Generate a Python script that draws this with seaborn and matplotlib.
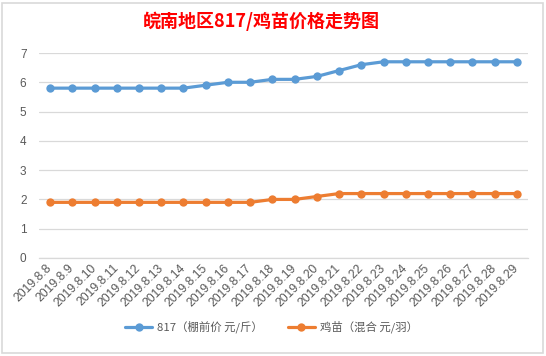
import matplotlib
matplotlib.use("Agg")
import matplotlib.pyplot as plt
import seaborn as sns
import pandas as pd
from matplotlib.patches import Rectangle
from matplotlib.lines import Line2D

dates = ["2019.8.8", "2019.8.9", "2019.8.10", "2019.8.11", "2019.8.12", "2019.8.13",
         "2019.8.14", "2019.8.15", "2019.8.16", "2019.8.17", "2019.8.18", "2019.8.19",
         "2019.8.20", "2019.8.21", "2019.8.22", "2019.8.23", "2019.8.24", "2019.8.25",
         "2019.8.26", "2019.8.27", "2019.8.28", "2019.8.29"]
price_817 = [5.8, 5.8, 5.8, 5.8, 5.8, 5.8, 5.8, 5.9, 6.0, 6.0, 6.1, 6.1,
             6.2, 6.4, 6.6, 6.7, 6.7, 6.7, 6.7, 6.7, 6.7, 6.7]
price_chick = [1.9, 1.9, 1.9, 1.9, 1.9, 1.9, 1.9, 1.9, 1.9, 1.9, 2.0, 2.0,
               2.1, 2.2, 2.2, 2.2, 2.2, 2.2, 2.2, 2.2, 2.2, 2.2]
series_names = ["817（棚前价 元/斤）", "鸡苗（混合 元/羽）"]
yticks = [0, 1, 2, 3, 4, 5, 6, 7]
title = "皖南地区817/鸡苗价格走势图"

sns.set_theme(style="white")
plt.rcParams['font.family'] = ['Noto Sans CJK SC', 'DejaVu Sans']

df = pd.DataFrame({
    "date": dates * 2,
    "idx": list(range(len(dates))) * 2,
    "value": price_817 + price_chick,
    "series": [series_names[0]] * len(dates) + [series_names[1]] * len(dates),
})

fig = plt.figure(figsize=(5.46, 3.56), dpi=100)
ax = fig.add_axes([39 / 546, 1 - 258 / 356, (528 - 39) / 546, (258 - 53) / 356])

palette = {series_names[0]: "#5B9BD5", series_names[1]: "#ED7D31"}
sns.lineplot(data=df, x="idx", y="value", hue="series", palette=palette, ax=ax,
             marker="o", markersize=6, markeredgewidth=0, linewidth=2.3,
             legend=False)

ax.set_xlim(-0.5, len(dates) - 0.5)
ax.set_ylim(0, 7)
ax.set_yticks(yticks)
ax.set_yticklabels([str(v) for v in yticks], fontsize=8.5, color="#595959",
                   family=['Liberation Sans'])
ax.set_xticks(range(len(dates)))
ax.set_xticklabels(dates, rotation=45, ha="right", va="center", rotation_mode="anchor",
                   fontsize=8.8, color="#595959", family=['Liberation Sans'])
ax.tick_params(axis="x", length=0, pad=6)
ax.tick_params(axis="y", length=0, pad=9)
ax.set_xlabel("")
ax.set_ylabel("")
ax.yaxis.grid(True, color="#D9D9D9", linewidth=0.9)
ax.xaxis.grid(False)
for s in ["top", "right", "left"]:
    ax.spines[s].set_visible(False)
ax.spines["bottom"].set_color("#D9D9D9")
ax.spines["bottom"].set_linewidth(0.9)

fig.text(261 / 546, 1 - 21 / 356, title, ha="center", va="center", fontsize=13,
         fontweight="bold", color="#FF0000")

h = [Line2D([0], [0], color=palette[n], marker="o", markersize=6, markeredgewidth=0,
            linewidth=2.3) for n in series_names]
fig.legend(h, series_names, loc="center", bbox_to_anchor=(0.497, 1 - 327 / 356), ncol=2,
           frameon=False, fontsize=8.2, labelcolor="#595959", handlelength=2.4,
           columnspacing=2.2, handletextpad=0.4)

fig.patches.append(Rectangle((2 / 546, 3 / 356), 541 / 546, 350 / 356, transform=fig.transFigure,
                             fill=False, edgecolor="#D9D9D9", linewidth=1.2))

fig.savefig("out.png", dpi=100, facecolor="white")
